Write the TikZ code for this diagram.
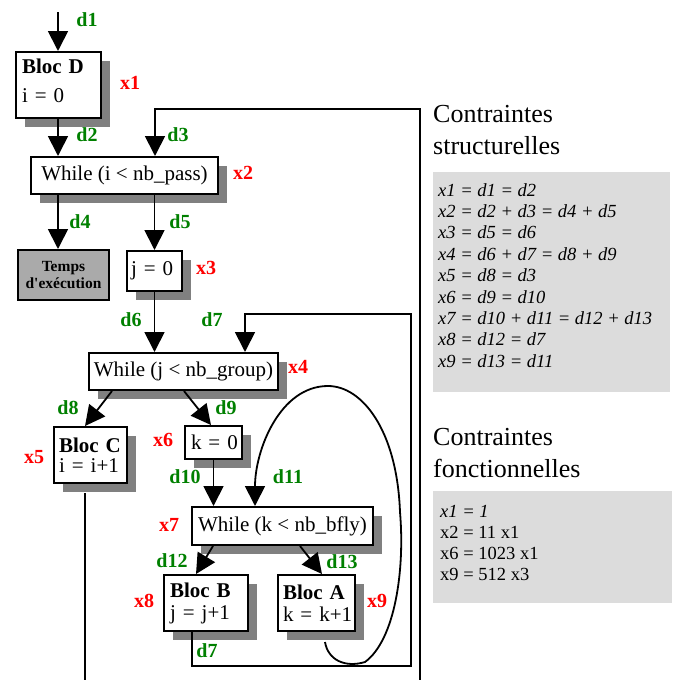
\documentclass[tikz,border=0pt]{standalone}
\usepackage{fontspec}
\setmainfont{Liberation Serif}
\newfontfamily\plainserif{Liberation Serif}
\usetikzlibrary{arrows.meta,shadows,calc}
\definecolor{dgreen}{HTML}{008000}
\definecolor{shadowgray}{HTML}{808080}
\definecolor{panelgray}{HTML}{DCDCDC}
\definecolor{tempsgray}{HTML}{AAAAAA}
\begin{document}
\begin{tikzpicture}[x=1pt,y=-1pt,
  box/.style={draw, line width=2pt, fill=white,
    general shadow={fill=shadowgray, shadow xshift=8.5pt, shadow yshift=-8.5pt},
    inner sep=0pt, anchor=north west, font=\fontsize{21}{24}\selectfont},
  lbox/.style={box, align=left},
  plainbox/.style={draw, line width=2pt, fill=tempsgray, inner sep=0pt, anchor=north west, align=center,
    font=\fontsize{15.5}{17}\selectfont\plainserif\bfseries},
  conn/.style={line width=1.8pt},
  arr/.style={conn, -{Triangle[length=20pt,width=20pt]}},
  dlab/.style={text=dgreen, inner sep=0pt, font=\fontsize{20}{24}\selectfont\bfseries},
  xlab/.style={text=red, inner sep=0pt, font=\fontsize{20}{24}\selectfont\bfseries},
  ttl/.style={anchor=base west, inner sep=0pt, font=\fontsize{26}{30}\selectfont},
  panel/.style={fill=panelgray, inner sep=0pt, anchor=north west},
  frm/.style={anchor=base west, inner sep=0pt, font=\fontsize{18.5}{21}\selectfont\itshape},
  frmu/.style={anchor=base west, inner sep=0pt, font=\fontsize{18.5}{21}\selectfont}]
\useasboundingbox (0,0) rectangle (678,680);

% ---- boxes ----
\node[lbox, minimum width=85pt, minimum height=66pt, text width=73pt, inner xsep=6pt] (blocD) at (15,51)
  {\mbox{\textbf{Bloc D}}\\[5pt] \mbox{i = 0}\\[-16pt]\mbox{}};
\node[box, minimum width=187pt, minimum height=37pt] (whileI) at (30,156) {While (i < nb\_pass)};
\node[plainbox, minimum width=91pt, minimum height=50pt] (temps) at (17,249) {Temps\\d'exécution};
\node[lbox, minimum height=40pt, text width=47pt, inner xsep=4pt] (j0) at (126,250) {\mbox{j = 0}};
\node[box, minimum width=189pt, minimum height=37pt] (whileJ) at (88,352) {While (j < nb\_group)};
\node[lbox, minimum height=56pt, text width=63pt, inner xsep=5pt] (blocC) at (53,426)
  {\mbox{\textbf{Bloc C}}\\[-4pt] \mbox{i = i+1}};
\node[lbox, minimum height=33pt, text width=45pt, inner xsep=6pt] (k0) at (184,425) {\mbox{k = 0}};
\node[box, minimum width=181pt, minimum height=38pt] (whileK) at (191,506) {While (k < nb\_bfly)};
\node[lbox, minimum height=56pt, text width=72pt, inner xsep=6pt] (blocB) at (163,574)
  {\mbox{\textbf{Bloc B}}\\[-2pt] \mbox{j = j+1}};
\node[lbox, minimum height=56pt, text width=67pt, inner xsep=5pt] (blocA) at (277,574)
  {\mbox{\textbf{Bloc A}}\\[-2pt] \mbox{k = k+1}};

% ---- coordinates ----
\coordinate (s1) at (58,12);
\coordinate (r1) at (420,680);
\coordinate (r2) at (420,109);
\coordinate (r3) at (155,109);
\coordinate (b1) at (192,666);
\coordinate (b2) at (411,666);
\coordinate (b3) at (411,314);
\coordinate (b4) at (245,314);
\coordinate (cbot) at (85,680);
\coordinate (k1) at (365,662);
\coordinate (k2) at (400,512);
\coordinate (k3) at (328,386);

% ---- connectors ----
\draw[arr] (s1) -- (s1 |- blocD.north);
\draw[arr] (blocD.south -| s1) -- (whileI.north -| s1);
\draw[arr] (r1) -- (r2) -- (r3) -- (r3 |- whileI.north);
\draw[arr] (whileI.south -| s1) -- (temps.north -| s1);
\draw[arr] (whileI.south -| j0.north) -- (j0.north);
\draw[arr] (j0.south) -- (j0.south |- whileJ.north);
\draw[arr] (blocB.south -| b1) -- (b1) -- (b2) -- (b3) -- (b4) -- (b4 |- whileJ.north);
\draw[arr] ($(whileJ.south west)+(24,0)$) -- ($(blocC.north west)+(32,0)$);
\draw[arr] ($(whileJ.south west)+(96,0)$) -- ($(k0.north west)+(27,0)$);
\draw[conn] ($(blocC.south -| cbot)+(0,9)$) -- (cbot);
\draw[arr] (k0.south) -- (k0.south |- whileK.north);
\draw[arr] ($(whileK.south west)+(22,0)$) -- ($(blocB.north west)+(33,0)$);
\draw[arr] ($(whileK.south west)+(109,0)$) -- ($(blocA.north west)+(45,0)$);
\draw[arr] ($(blocA.south)+(8.5,10)$) .. controls (328,660) and (345,668) .. (k1)
  .. controls (395,640) and (405,570) .. (k2)
  .. controls (397,430) and (362,386) .. (k3)
  .. controls (280,386) and (255,450) .. ($(whileK.north west)+(64,0)$);

% ---- labels ----
\node[dlab] (ld1) at (87,20) {d1};
\node[xlab] (lx1) at (130,83) {x1};
\node[dlab] (ld2) at (87,135) {d2};
\node[dlab] (ld3) at (178,135) {d3};
\node[xlab] (lx2) at (243,173) {x2};
\node[dlab] (ld4) at (80,222) {d4};
\node[dlab] (ld5) at (180,222) {d5};
\node[xlab] (lx3) at (206,268) {x3};
\node[dlab] (ld6) at (131,320) {d6};
\node[dlab] (ld7) at (212,320) {d7};
\node[xlab] (lx4) at (298,367) {x4};
\node[dlab] (ld8) at (68,408) {d8};
\node[dlab] (ld9) at (226,408) {d9};
\node[xlab] (lx5) at (34,457) {x5};
\node[xlab] (lx6) at (163,440) {x6};
\node[dlab] (ld10) at (185,477) {d10};
\node[dlab] (ld11) at (288,477) {d11};
\node[xlab] (lx7) at (169,525) {x7};
\node[dlab] (ld12) at (172,561) {d12};
\node[dlab] (ld13) at (342,562) {d13};
\node[xlab] (lx8) at (144,601) {x8};
\node[xlab] (lx9) at (377,601) {x9};
\node[dlab] (ld7b) at (207,651) {d7};

% ---- right panels ----
\node[ttl] (t1a) at (433,122) {Contraintes};
\node[ttl] (t1b) at (433,154) {structurelles};
\node[panel, minimum width=237pt, minimum height=220pt] (p1) at (433,172) {};
\foreach \t [count=\i] in {x1 = d1 = d2, x2 = d2 + d3 = d4 + d5, x3 = d5 = d6,
  x4 = d6 + d7 = d8 + d9, x5 = d8 = d3, x6 = d9 = d10,
  x7 = d10 + d11 = d12 + d13, x8 = d12 = d7, x9 = d13 = d11}
  \node[frm] (f\i) at (438,{196+(\i-1)*21.4}) {\t};

\node[ttl] (t2a) at (433,445) {Contraintes};
\node[ttl] (t2b) at (433,477) {fonctionnelles};
\node[panel, minimum width=239pt, minimum height=112pt] (p2) at (433,491) {};
\node[frm] (g1) at (440,517) {x1 = 1};
\node[frmu] (g2) at (440,538) {x2 = 11 x1};
\node[frmu] (g3) at (440,559) {x6 = 1023 x1};
\node[frmu] (g4) at (440,580) {x9 = 512 x3};
\end{tikzpicture}
\end{document}
